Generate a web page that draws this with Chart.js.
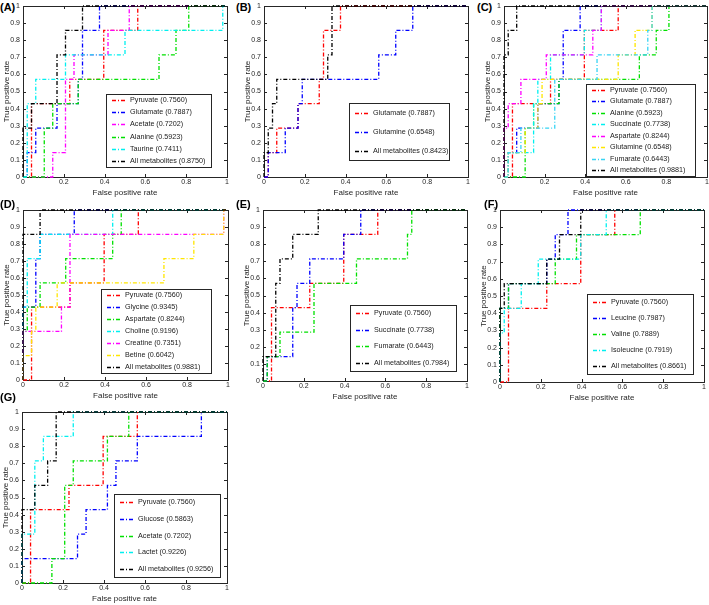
<!DOCTYPE html>
<html>
<head>
<meta charset="utf-8">
<script src="https://cdn.jsdelivr.net/npm/chart.js@4.4.1/dist/chart.umd.min.js"></script>
<style>
  body { margin: 0; background: #fff; width: 709px; height: 605px; overflow: hidden; position: relative; }
  canvas { position: absolute; }
  .tag { position: absolute; font: bold 11px Arial, "Liberation Sans", sans-serif; line-height: 13px; color: #000; }
</style>
</head>
<body>
<script>
// ---------- Ticks ----------
const xTickValues = [0, 0.2, 0.4, 0.6, 0.8, 1];
const xTickLabels = ["0", "0.2", "0.4", "0.6", "0.8", "1"];
const yTickValues = [0, 0.1, 0.2, 0.3, 0.4, 0.5, 0.6, 0.7, 0.8, 0.9, 1];
const yTickLabels = ["0", "0.1", "0.2", "0.3", "0.4", "0.5", "0.6", "0.7", "0.8", "0.9", "1"];

// ---------- ROC curves (step corners: FPR, TPR) ----------
const pyruvateFpr   = [0, 0.0417, 0.2292, 0.3958, 0.5625, 1];
const pyruvateTpr   = [0, 0.4286, 0.5714, 0.8571, 1, 1];
const glutamateFpr  = [0, 0.0208, 0.0625, 0.1667, 0.2708, 0.2917, 0.375, 1];
const glutamateTpr  = [0, 0.1429, 0.2857, 0.4286, 0.5714, 0.8571, 1, 1];
const acetateFpr    = [0, 0.1458, 0.2083, 0.25, 0.4167, 0.5208, 1];
const acetateTpr    = [0, 0.1429, 0.5714, 0.7143, 0.8571, 1, 1];
const alanineFpr    = [0, 0.1042, 0.1458, 0.2708, 0.6667, 0.75, 0.8125, 1];
const alanineTpr    = [0, 0.2857, 0.4286, 0.5714, 0.7143, 0.8571, 1, 1];
const taurineFpr    = [0, 0.0208, 0.0625, 0.2083, 0.5, 0.9792, 1];
const taurineTpr    = [0, 0.4286, 0.5714, 0.7143, 0.8571, 1, 1];
const glutamineFpr  = [0, 0.0208, 0.1042, 0.1667, 0.1875, 0.5625, 0.6458, 0.7292, 1];
const glutamineTpr  = [0, 0.1429, 0.2857, 0.4286, 0.5714, 0.7143, 0.8571, 1, 1];
const succinateFpr  = [0, 0.0208, 0.1458, 0.1667, 0.2292, 0.3958, 0.4792, 1];
const succinateTpr  = [0, 0.1429, 0.4286, 0.5714, 0.7143, 0.8571, 1, 1];
const aspartateFpr  = [0, 0, 0.0208, 0.0833, 0.2083, 0.4375, 0.4792, 1];
const aspartateTpr  = [0, 0.2857, 0.4286, 0.5714, 0.7143, 0.8571, 1, 1];
const fumarateFpr   = [0, 0.0208, 0.0833, 0.25, 0.4583, 0.7083, 0.7292, 1];
const fumarateTpr   = [0, 0.1429, 0.2857, 0.5714, 0.7143, 0.8571, 1, 1];
const glycineFpr    = [0, 0, 0.0625, 0.0833, 0.25, 1];
const glycineTpr    = [0, 0.4286, 0.7143, 0.8571, 1, 1];
const cholineFpr    = [0, 0, 0.0208, 0.0833, 0.4375, 1];
const cholineTpr    = [0, 0.4286, 0.7143, 0.8571, 1, 1];
const creatineFpr   = [0, 0, 0.1875, 0.2292, 0.9792, 1];
const creatineTpr   = [0, 0.2857, 0.4286, 0.8571, 1, 1];
const betineFpr     = [0, 0, 0.0417, 0.0625, 0.1667, 0.6875, 0.8333, 0.9792, 1];
const betineTpr     = [0, 0.1429, 0.2857, 0.4286, 0.5714, 0.7143, 0.8571, 1, 1];
const leucineFpr    = [0, 0, 0.0417, 0.2292, 0.2708, 0.3333, 1];
const leucineTpr    = [0, 0.4286, 0.5714, 0.7143, 0.8571, 1, 1];
const valineFpr     = [0, 0, 0.0417, 0.2708, 0.375, 0.6875, 1];
const valineTpr     = [0, 0.4286, 0.5714, 0.7143, 0.8571, 1, 1];
const isoleucineFpr = [0, 0, 0.0208, 0.1042, 0.1875, 0.3958, 0.5208, 1];
const isoleucineTpr = [0, 0.2857, 0.4286, 0.5714, 0.7143, 0.8571, 1, 1];
const glucoseFpr    = [0, 0, 0.2708, 0.3125, 0.4167, 0.4583, 0.5625, 0.875, 1];
const glucoseTpr    = [0, 0.1429, 0.2857, 0.4286, 0.5714, 0.7143, 0.8571, 1, 1];
const lactetFpr     = [0, 0, 0.0625, 0.1042, 0.25, 1];
const lactetTpr     = [0, 0.2857, 0.7143, 0.8571, 1, 1];
// "All metabolites" curve of each panel
const allAFpr = [0, 0, 0.0417, 0.1667, 0.2083, 0.2917, 1];
const allATpr = [0, 0.2857, 0.4286, 0.7143, 0.8571, 1, 1];
const allBFpr = [0, 0, 0.0208, 0.0417, 0.0625, 0.3125, 0.3333, 1];
const allBTpr = [0, 0.1429, 0.2857, 0.4286, 0.5714, 0.7143, 1, 1];
const allCFpr = [0, 0, 0.0208, 0.0625, 1];
const allCTpr = [0, 0.7143, 0.8571, 1, 1];
const allDFpr = [0, 0, 0.0833, 1];
const allDTpr = [0, 0.8571, 1, 1];
const allEFpr = [0, 0, 0.0625, 0.0833, 0.1458, 0.2708, 1];
const allETpr = [0, 0.1429, 0.5714, 0.7143, 0.8571, 1, 1];
const allFFpr = [0, 0, 0.0208, 0.2292, 0.2917, 0.3958, 1];
const allFTpr = [0, 0.4286, 0.5714, 0.7143, 0.8571, 1, 1];
const allGFpr = [0, 0, 0.0625, 0.125, 0.1667, 1];
const allGTpr = [0, 0.4286, 0.5714, 0.7143, 1, 1];

// ---------- Panels ----------
const panelTags = ["(A)", "(B)", "(C)", "(D)", "(E)", "(F)", "(G)"];
const panelCurves = [
  [[pyruvateFpr, pyruvateTpr], [glutamateFpr, glutamateTpr], [acetateFpr, acetateTpr], [alanineFpr, alanineTpr], [taurineFpr, taurineTpr], [allAFpr, allATpr]],
  [[glutamateFpr, glutamateTpr], [glutamineFpr, glutamineTpr], [allBFpr, allBTpr]],
  [[pyruvateFpr, pyruvateTpr], [glutamateFpr, glutamateTpr], [alanineFpr, alanineTpr], [succinateFpr, succinateTpr], [aspartateFpr, aspartateTpr], [glutamineFpr, glutamineTpr], [fumarateFpr, fumarateTpr], [allCFpr, allCTpr]],
  [[pyruvateFpr, pyruvateTpr], [glycineFpr, glycineTpr], [aspartateFpr, aspartateTpr], [cholineFpr, cholineTpr], [creatineFpr, creatineTpr], [betineFpr, betineTpr], [allDFpr, allDTpr]],
  [[pyruvateFpr, pyruvateTpr], [succinateFpr, succinateTpr], [fumarateFpr, fumarateTpr], [allEFpr, allETpr]],
  [[pyruvateFpr, pyruvateTpr], [leucineFpr, leucineTpr], [valineFpr, valineTpr], [isoleucineFpr, isoleucineTpr], [allFFpr, allFTpr]],
  [[pyruvateFpr, pyruvateTpr], [glucoseFpr, glucoseTpr], [acetateFpr, acetateTpr], [lactetFpr, lactetTpr], [allGFpr, allGTpr]]
];
const panelLabels = [
  ["Pyruvate (0.7560)", "Glutamate (0.7887)", "Acetate (0.7202)", "Alanine (0.5923)", "Taurine (0.7411)", "All metabolites (0.8750)"],
  ["Glutamate (0.7887)", "Glutamine (0.6548)", "All metabolites (0.8423)"],
  ["Pyruvate (0.7560)", "Glutamate (0.7887)", "Alanine (0.5923)", "Succinate (0.7738)", "Aspartate (0.8244)", "Glutamine (0.6548)", "Fumarate (0.6443)", "All metabolites (0.9881)"],
  ["Pyruvate (0.7560)", "Glycine (0.9345)", "Aspartate (0.8244)", "Choline (0.9196)", "Creatine (0.7351)", "Betine (0.6042)", "All metabolites (0.9881)"],
  ["Pyruvate (0.7560)", "Succinate (0.7738)", "Fumarate (0.6443)", "All metabolites (0.7984)"],
  ["Pyruvate (0.7560)", "Leucine (0.7987)", "Valine (0.7889)", "Isoleucine (0.7919)", "All metabolites (0.8661)"],
  ["Pyruvate (0.7560)", "Glucose (0.5863)", "Acetate (0.7202)", "Lactet (0.9226)", "All metabolites (0.9256)"]
];

// ---------- Styles ----------
const RED = "#ff0000", BLUE = "#0000ff", GREEN = "#00e000", CYAN = "#00f0f0",
      CYAN2 = "#38d4f4", MAGENTA = "#ff00ff", YELLOW = "#ffe600", BLACK = "#000000";
const panelColors = [
  [RED, BLUE, MAGENTA, GREEN, CYAN, BLACK],
  [RED, BLUE, BLACK],
  [RED, BLUE, GREEN, CYAN, MAGENTA, YELLOW, CYAN2, BLACK],
  [RED, BLUE, GREEN, CYAN, MAGENTA, YELLOW, BLACK],
  [RED, BLUE, GREEN, BLACK],
  [RED, BLUE, GREEN, CYAN, BLACK],
  [RED, BLUE, GREEN, CYAN, BLACK]
];
const AXIS = "#262626";
const FONT = 'Arial, "Liberation Sans", Helvetica, sans-serif';
const DASH = [4, 2, 1, 2];
const LINE_W = 1.3;

// page layout: canvas [x,y,w,h], plot [l,t,r,b], legend [x,y,w,h], tag [x,y]
const LAYOUT = [
  { c: [0, 0, 236, 199],     p: [23, 6, 227, 177],    lg: [106, 94, 105, 73],  tag: [0, 1] },
  { c: [236, 0, 236, 199],   p: [264, 6, 468, 177],   lg: [349, 103, 100, 57], tag: [236, 1] },
  { c: [472, 0, 237, 199],   p: [504, 6, 707, 177],   lg: [586, 84, 109, 92],  tag: [477, 1] },
  { c: [0, 199, 236, 203],   p: [23, 210, 228, 380],  lg: [101, 289, 110, 84], tag: [0, 198] },
  { c: [236, 199, 236, 203], p: [263, 210, 467, 381], lg: [350, 305, 106, 66], tag: [236, 198] },
  { c: [472, 199, 237, 203], p: [500, 210, 704, 382], lg: [587, 294, 106, 80], tag: [484, 198] },
  { c: [0, 392, 236, 213],   p: [22, 412, 227, 583],  lg: [114, 494, 106, 83], tag: [0, 391] }
];

// ---------- Plugins ----------
// MATLAB style box with inward ticks
const axesBox = {
  id: "axesBox",
  beforeDatasetsDraw(chart) {
    const { ctx, chartArea: a, scales: { x, y } } = chart;
    ctx.save();
    ctx.strokeStyle = AXIS;
    ctx.lineWidth = 1;
    ctx.strokeRect(a.left + 0.5, a.top + 0.5, a.right - a.left, a.bottom - a.top);
    ctx.beginPath();
    xTickValues.forEach(v => {
      const px = Math.round(x.getPixelForValue(v)) + 0.5;
      ctx.moveTo(px, a.bottom); ctx.lineTo(px, a.bottom - 3);
      ctx.moveTo(px, a.top); ctx.lineTo(px, a.top + 3);
    });
    yTickValues.forEach(v => {
      const py = Math.round(y.getPixelForValue(v)) + 0.5;
      ctx.moveTo(a.left, py); ctx.lineTo(a.left + 3, py);
      ctx.moveTo(a.right, py); ctx.lineTo(a.right - 3, py);
    });
    ctx.stroke();
    ctx.restore();
  }
};

// legend box inside the axes
const rocLegend = {
  id: "rocLegend",
  afterDatasetsDraw(chart, args, opts) {
    const { ctx } = chart;
    const labels = opts.labels, colors = opts.colors;
    const { x, y, w, h } = opts;
    ctx.save();
    ctx.fillStyle = "#fff";
    ctx.fillRect(x, y, w, h);
    ctx.strokeStyle = AXIS;
    ctx.lineWidth = 1;
    ctx.strokeRect(x + 0.5, y + 0.5, w, h);
    ctx.font = "7.2px " + FONT;
    ctx.textBaseline = "middle";
    const row = h / labels.length;
    labels.forEach((label, i) => {
      const cy = Math.round(y + row * (i + 0.5));
      ctx.strokeStyle = colors[i];
      ctx.lineWidth = 1.5;
      ctx.setLineDash(DASH);
      ctx.beginPath();
      ctx.moveTo(x + 6, cy + 0.5);
      ctx.lineTo(x + 21, cy + 0.5);
      ctx.stroke();
      ctx.setLineDash([]);
      ctx.fillStyle = "#1a1a1a";
      ctx.fillText(label, x + 24, cy + 0.5);
    });
    ctx.restore();
  }
};

// turn step corners into a staircase path (horizontal, then vertical)
function stairs(fpr, tpr) {
  const pts = [{ x: fpr[0], y: tpr[0] }];
  for (let k = 1; k < fpr.length; k++) {
    pts.push({ x: fpr[k], y: tpr[k - 1] });
    pts.push({ x: fpr[k], y: tpr[k] });
  }
  return pts;
}

// ---------- Build ----------
LAYOUT.forEach((L, n) => {
  const [cx, cy, cw, ch] = L.c;
  const [pl, pt, pr, pb] = L.p;

  const tag = document.createElement("div");
  tag.className = "tag";
  tag.style.left = L.tag[0] + "px";
  tag.style.top = L.tag[1] + "px";
  tag.textContent = panelTags[n];
  document.body.appendChild(tag);

  const canvas = document.createElement("canvas");
  canvas.width = cw; canvas.height = ch;
  canvas.style.left = cx + "px"; canvas.style.top = cy + "px";
  canvas.style.width = cw + "px"; canvas.style.height = ch + "px";
  document.body.appendChild(canvas);

  const curves = panelCurves[n];
  const datasets = curves.map((c, i) => ({
    label: panelLabels[n][i],
    data: stairs(c[0], c[1]),
    borderColor: panelColors[n][i],
    borderWidth: LINE_W,
    borderDash: DASH,
    pointRadius: 0,
    fill: false,
    tension: 0,
    clip: false,
    order: curves.length - i   // later curves on top, like MATLAB
  }));

  const yTitleCenter = pl - 16 - cx;          // from canvas left
  const xTitleCenter = pb + 15.5;             // page y
  const tickFont = { size: 7, family: FONT };
  const titleFont = { size: 8, family: FONT, lineHeight: 1 };

  new Chart(canvas, {
    type: "line",
    data: { datasets },
    plugins: [axesBox, rocLegend],
    options: {
      responsive: false,
      animation: false,
      devicePixelRatio: 1,
      events: [],
      layout: { padding: { top: pt - cy, right: (cx + cw) - pr, left: 0, bottom: 0 } },
      plugins: {
        legend: { display: false },
        tooltip: { enabled: false },
        rocLegend: {
          x: L.lg[0] - cx, y: L.lg[1] - cy, w: L.lg[2], h: L.lg[3],
          labels: panelLabels[n], colors: panelColors[n]
        }
      },
      scales: {
        x: {
          type: "linear", min: 0, max: 1,
          grid: { display: false, drawTicks: false },
          border: { display: false },
          ticks: {
            padding: 1, color: AXIS, font: tickFont, maxRotation: 0, autoSkip: false,
            callback: (v, i) => xTickLabels[i]
          },
          afterBuildTicks: s => { s.ticks = xTickValues.map(v => ({ value: v })); },
          afterFit: s => { s.height = (cy + ch) - pb; s.paddingLeft = 0; s.paddingRight = 0; },
          title: {
            display: true, text: "False positive rate", color: AXIS, font: titleFont,
            padding: { top: 0, bottom: (cy + ch) - xTitleCenter - 4 }
          }
        },
        y: {
          type: "linear", min: 0, max: 1,
          grid: { display: false, drawTicks: false },
          border: { display: false },
          ticks: {
            padding: 3, color: AXIS, font: tickFont, autoSkip: false,
            callback: (v, i) => yTickLabels[i]
          },
          afterBuildTicks: s => { s.ticks = yTickValues.map(v => ({ value: v })); },
          afterFit: s => { s.width = pl - cx; s.paddingTop = 0; s.paddingBottom = 0; },
          title: {
            display: true, text: "True positive rate", color: AXIS, font: titleFont,
            padding: { top: Math.max(0, yTitleCenter - 4), bottom: 0 }
          }
        }
      }
    }
  });
});
</script>
</body>
</html>
